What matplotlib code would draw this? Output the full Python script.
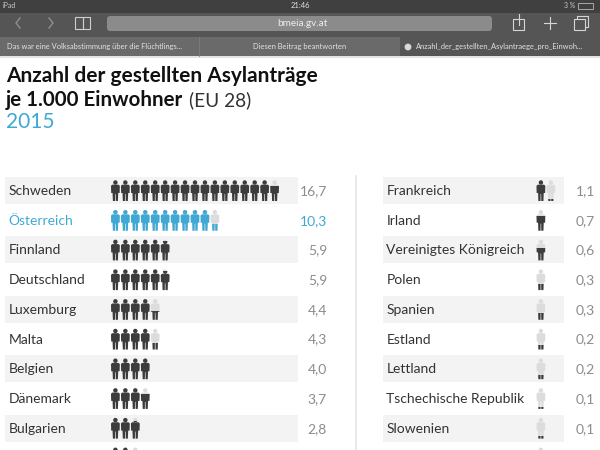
import matplotlib
matplotlib.use('Agg')
import matplotlib.pyplot as plt
from matplotlib.patches import Rectangle, FancyBboxPatch, Circle, Polygon

plt.rcParams['font.family'] = ['Lato', 'DejaVu Sans']

# left column
left_names = ['Schweden', 'Österreich', 'Finnland', 'Deutschland', 'Luxemburg',
              'Malta', 'Belgien', 'Dänemark', 'Bulgarien', '']
left_values = [16.7, 10.3, 5.9, 5.9, 4.4, 4.3, 4.0, 3.7, 2.8, 2.6]
left_labels = ['16,7', '10,3', '5,9', '5,9', '4,4', '4,3', '4,0', '3,7', '2,8', '']

# right column
right_names = ['Frankreich', 'Irland', 'Vereinigtes Königreich', 'Polen', 'Spanien',
               'Estland', 'Lettland', 'Tschechische Republik', 'Slowenien', '']
right_values = [1.1, 0.7, 0.6, 0.3, 0.3, 0.2, 0.2, 0.1, 0.1, 0.1]
right_labels = ['1,1', '0,7', '0,6', '0,3', '0,3', '0,2', '0,2', '0,1', '0,1', '']

highlight = 'Österreich'
BLUE = '#3fa9d6'
DARK = '#3c3c3c'
GHOST = '#dcdcdc'
ROW0 = 190.5
PITCH = 29.7

fig = plt.figure(figsize=(6, 4.5), dpi=100)
ax = fig.add_axes([0, 0, 1, 1])
ax.set_xlim(0, 600)
ax.set_ylim(450, 0)
ax.axis('off')


def person(x, y, color, frac=1.0):
    # x = left edge, y = vertical centre of the row, filled from the feet up
    top = y - 10
    outline = [(x + 1.2, top + 4.2), (x + 7.6, top + 4.2), (x + 8.8, top + 5.4), (x + 8.6, top + 12.5),
               (x + 7.2, top + 12.5), (x + 6.9, top + 20.5), (x + 4.8, top + 20.5), (x + 4.7, top + 13.5),
               (x + 4.1, top + 13.5), (x + 4.0, top + 20.5), (x + 1.9, top + 20.5), (x + 1.6, top + 12.5),
               (x + 0.2, top + 12.5), (x, top + 5.4)]
    for c, z, f in ((GHOST, 3, 1.0), (color, 4, frac)):
        if f <= 0:
            continue
        clip = Rectangle((x - 1, top - 1 + 21.5 * (1 - f)), 11, 21.5 * f + 0.5, transform=ax.transData)
        for p in (Circle((x + 4.4, top + 2), 2.2), Polygon(outline, closed=True)):
            p.set(facecolor=c, edgecolor='none', zorder=z)
            ax.add_patch(p)
            p.set_clip_path(clip)


def column(names, values, labels, band_x, band_w, icon_x, value_x):
    for i, name in enumerate(names):
        y = ROW0 + i * PITCH
        if i % 2 == 0 and name:
            ax.add_patch(Rectangle((band_x, y - 13.5), band_w, 27, facecolor='#f3f3f3', edgecolor='none', zorder=1))
        hot = name == highlight
        ax.text(band_x + 3.5, y + 0.6, name, fontsize=10, va='center', color=BLUE if hot else '#333333', zorder=5)
        v = values[i]
        n = 0
        while n < v:
            person(icon_x + n * 9.95, y, BLUE if hot else DARK, min(v - n, 1.0))
            n += 1
        ax.text(value_x, y + 0.6, labels[i], fontsize=10, ha='right', va='center',
                color=BLUE if hot else '#8c8c8c', zorder=5)


# browser chrome
ax.add_patch(Rectangle((0, 0), 600, 13, facecolor='#404040', edgecolor='none'))
ax.add_patch(Rectangle((0, 13), 600, 24, facecolor='#555555', edgecolor='none'))
ax.add_patch(Rectangle((0, 37), 600, 19, facecolor='#6a6a6a', edgecolor='none'))
ax.add_patch(Rectangle((400, 37), 200, 19, facecolor='#555555', edgecolor='none'))
ax.plot([199, 199], [37, 56], color='#7d7d7d', lw=0.6)
ax.add_patch(Rectangle((0, 56), 600, 1.5, facecolor='#e4e4e4', edgecolor='none'))
ax.add_patch(FancyBboxPatch((107, 16), 385, 15, boxstyle='round,pad=0,rounding_size=3',
                            facecolor='#8b8b8b', edgecolor='none'))
ax.text(3, 6, 'iPad', fontsize=5, color='#c8c8c8', va='center')
ax.text(300, 6, '21:46', fontsize=5.5, color='#e0e0e0', va='center', ha='center')
ax.text(575, 6, '3 %', fontsize=5, color='#c8c8c8', va='center', ha='right')
ax.add_patch(Rectangle((578, 3), 15, 6, facecolor='none', edgecolor='#b9b9b9', lw=0.6))
ax.text(302, 23.5, 'bmeia.gv.at', fontsize=7.2, color='#eeeeee', va='center', ha='center')
ax.plot([20, 16, 20], [18, 23, 28], color='#8f8f8f', lw=1)
ax.plot([49, 53, 49], [18, 23, 28], color='#8f8f8f', lw=1)
ax.add_patch(Rectangle((75, 17), 7.5, 12, facecolor='none', edgecolor='#cfcfcf', lw=0.8))
ax.add_patch(Rectangle((82.5, 17), 7.5, 12, facecolor='none', edgecolor='#cfcfcf', lw=0.8))
ax.add_patch(Rectangle((513, 19), 11, 11, facecolor='none', edgecolor='#d5d5d5', lw=0.8))
ax.plot([518.5, 518.5], [14, 25], color='#d5d5d5', lw=0.8)
ax.plot([544, 556], [23, 23], color='#d5d5d5', lw=0.8)
ax.plot([550, 550], [17, 29], color='#d5d5d5', lw=0.8)
ax.add_patch(Rectangle((577, 16), 11, 11, facecolor='#555555', edgecolor='#d5d5d5', lw=0.8))
ax.add_patch(Rectangle((574, 19), 11, 11, facecolor='#555555', edgecolor='#d5d5d5', lw=0.8))
ax.text(7, 47, 'Das war eine Volksabstimmung über die Flüchtlings...', fontsize=5.4, color='#e2e2e2', va='center')
ax.text(300, 47, 'Diesen Beitrag beantworten', fontsize=5.4, color='#e2e2e2', va='center', ha='center')
ax.add_patch(Circle((408, 47), 3.4, facecolor='#d8d8d8', edgecolor='none'))
ax.text(416, 47, 'Anzahl_der_gestellten_Asylantraege_pro_Einwoh...', fontsize=5.4, color='#e2e2e2', va='center')

# headline
ax.text(6, 76, 'Anzahl der gestellten Asylanträge', fontsize=15, fontweight='bold', color='#111111', va='center')
ax.text(6, 100, 'je 1.000 Einwohner', fontsize=14.8, fontweight='bold', color='#111111', va='center')
ax.text(189, 100, '(EU 28)', fontsize=13.8, color='#333333', va='center')
ax.text(6, 122, '2015', fontsize=15, color=BLUE, va='center')

# divider between the two columns
ax.plot([356, 356], [176, 450], color='#e2e2e2', lw=1.1, zorder=1)

column(left_names, left_values, left_labels, 5, 293, 111, 327)
column(right_names, right_values, right_labels, 383, 181, 536.5, 595)

fig.savefig('out.png', dpi=100)
